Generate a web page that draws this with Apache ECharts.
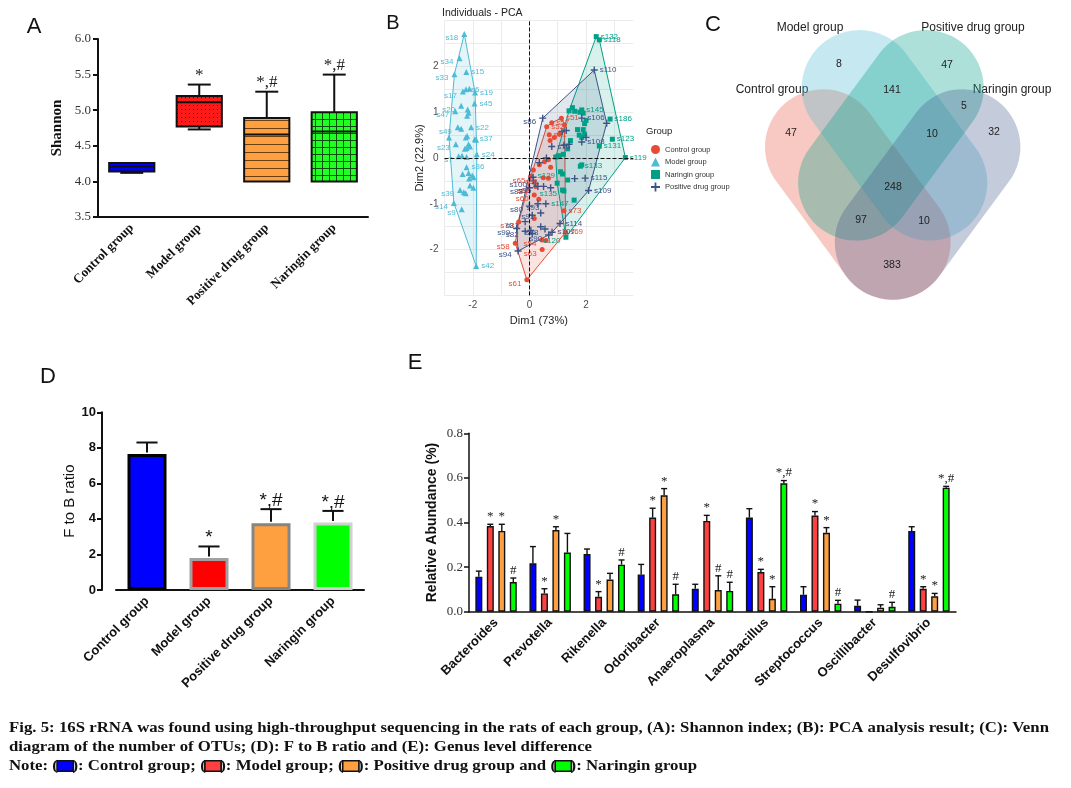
<!DOCTYPE html>
<html><head><meta charset="utf-8">
<script src="https://cdn.jsdelivr.net/npm/echarts@6/dist/echarts.min.js"></script>
<style>html,body{margin:0;padding:0;background:#fff}#c{width:1071px;height:788px}</style>
</head><body><div id="c"></div>
<script>
// ================= DATA =================
const groups = ['Control group', 'Model group', 'Positive drug group', 'Naringin group'];

// (A) Shannon index box statistics
const shannonMin    = [4.12, 4.73, 4.00, 4.00];
const shannonQ1     = [4.14, 4.77, 4.00, 4.00];
const shannonMedian = [4.21, 5.11, 4.66, 4.70];
const shannonQ3     = [4.26, 5.20, 4.89, 4.97];
const shannonMax    = [4.26, 5.36, 5.26, 5.50];
const shannonSig    = ['', '*', '*,#', '*,#'];

// (B) PCA individuals [Dim1, Dim2, label]
const pcaControl = [
 [1.13,0.87,'s51'],[0.79,0.77,'s57'],[0.61,0.68,'s52'],[0.70,0.51,'s71'],[1.06,0.52,''],[0.88,0.45,''],[0.73,0.38,''],[1.24,0.72,''],
 [0.67,-0.04,''],[0.53,-0.08,''],[0.35,-0.15,''],[0.75,-0.20,''],[0.14,-0.26,''],[0.05,-0.40,'s65'],[0.49,-0.43,'s56'],[0.67,-0.44,''],
 [0.22,-0.62,'s68'],[0.17,-0.81,'s60'],[0.33,-0.90,''],[0.17,-1.32,''],[1.22,-1.15,'s73'],[-0.38,-1.40,'s70'],[0.44,-1.79,'s54'],[0.59,-1.80,''],
 [-0.50,-1.86,'s58'],[0.45,-2.00,'s63'],[-0.09,-2.66,'s61'],[1.28,-1.62,'s69']
];
const pcaModel = [
 [-2.30,2.71,'s18'],[-2.47,2.18,'s34'],[-2.23,1.88,'s15'],[-2.65,1.83,'s33'],[-2.24,1.50,'s6'],[-2.12,1.51,''],[-1.92,1.43,'s19'],[-2.35,1.45,'s17'],
 [-2.41,1.14,'s20'],[-2.18,1.06,''],[-2.15,0.99,''],[-2.20,0.92,''],[-1.94,1.19,'s45'],[-2.62,1.02,'s47'],[-2.53,0.67,'s49'],[-2.41,0.64,''],
 [-2.06,0.67,'s22'],[-2.84,0.45,''],[-1.93,0.41,'s37'],[-1.88,0.40,''],[-2.25,0.45,''],[-2.20,0.48,''],[-2.15,0.30,''],[-2.28,0.20,''],[-2.22,0.22,''],[-2.10,0.25,''],
 [-2.60,0.30,'s23'],[-2.50,0.04,'s7'],[-1.86,0.08,'s24'],[-2.22,0.02,''],[-2.38,0.05,''],
 [-2.22,-0.20,'s36'],[-2.36,-0.35,''],[-2.15,-0.33,''],[-2.02,-0.38,''],[-2.13,-0.45,''],[-1.97,-0.42,''],
 [-2.45,-0.70,'s39'],[-2.32,-0.75,''],[-2.25,-0.77,''],[-2.10,-0.60,''],[-1.98,-0.65,''],
 [-2.67,-0.98,'s14'],[-2.39,-1.12,'s9'],[-1.88,-2.36,'s42']
];
const pcaNaringin = [
 [2.36,2.65,'s132'],[2.47,2.58,'s118'],[1.40,1.03,''],[1.52,1.10,''],[1.60,1.02,''],[1.85,1.05,'s145'],[1.90,0.98,''],[1.78,1.00,''],
 [2.85,0.85,'s186'],[2.00,0.82,''],[1.95,0.75,''],[2.93,0.41,'s123'],[2.47,0.26,'s131'],[3.39,0.01,'s119'],
 [1.70,0.62,''],[1.76,0.50,''],[1.90,0.62,''],[1.95,0.52,''],[1.85,0.45,''],[1.45,0.38,''],[1.35,0.20,''],[1.20,0.08,''],
 [1.00,0.03,''],[1.05,0.05,''],[0.93,0.02,''],[1.80,-0.18,'s133'],[1.85,-0.15,''],[1.10,-0.30,'s129'],[1.17,-0.35,''],[1.35,-0.48,''],
 [1.17,-0.70,'s135'],[1.22,-0.72,''],[1.58,-0.92,'s147'],[1.29,-1.73,'s120'],[0.98,-0.55,'']
];
const pcaPositive = [
 [2.29,1.92,'s110'],[2.73,0.76,''],[0.47,0.87,'s86'],[1.85,0.87,'s106'],[1.30,0.60,''],[1.15,0.58,''],[1.85,0.35,'s108'],[2.00,0.45,''],
 [1.40,0.30,''],[1.22,0.28,''],[0.79,0.25,'s76'],[0.60,0.00,''],[0.35,-0.10,''],[0.13,-0.42,''],[0.20,-0.55,''],[0.14,-0.50,'s100'],
 [0.30,-0.62,'s95'],[0.50,-0.62,''],[0.75,-0.65,''],[0.00,-0.65,'s83'],[1.97,-0.44,'s115'],[1.60,-0.45,''],[2.09,-0.71,'s109'],
 [0.30,-1.00,''],[0.58,-1.00,'s93'],[0.00,-1.05,'s80'],[0.40,-1.20,'s91'],[0.10,-1.25,''],[1.08,-1.43,'s114'],[-0.15,-1.39,'s81'],
 [0.40,-1.50,''],[0.55,-1.55,'s88'],[-0.45,-1.54,'s99'],[-0.15,-1.60,'s82'],[0.05,-1.58,''],[0.10,-1.65,''],[0.68,-1.68,'s90'],[0.80,-1.62,'s107'],[-0.40,-2.03,'s94']
];

// (C) Venn diagram of OTUs
const vennSets = ['Control group', 'Model group', 'Positive drug group', 'Naringin group'];
const vennRegionSets   = [[0],[1],[2],[3],[1,2],[2,3],[1,2,3],[0,1,2,3],[0,2,3],[0,1,3],[0,3]];
const vennRegionCounts = [47, 8, 47, 32, 141, 5, 10, 248, 97, 10, 383];

// (D) F to B ratio
const fbRatio = [7.65, 1.80, 3.75, 3.80];
const fbErr   = [0.65, 0.65, 0.80, 0.65];
const fbSig   = ['', '*', '*,#', '*,#'];

// (E) Genus level relative abundance
const genera = ['Bacteroides','Prevotella','Rikenella','Odoribacter','Anaeroplasma','Lactobacillus','Streptococcus','Oscillibacter','Desulfovibrio'];
const abControl     = [0.157, 0.217, 0.259, 0.167, 0.103, 0.422, 0.076, 0.027, 0.362];
const abControlErr  = [0.025, 0.075, 0.022, 0.045, 0.020, 0.040, 0.036, 0.025, 0.019];
const abModel       = [0.384, 0.082, 0.067, 0.422, 0.407, 0.178, 0.431, 0, 0.103];
const abModelErr    = [0.008, 0.021, 0.023, 0.042, 0.025, 0.012, 0.018, 0, 0.009];
const abPositive    = [0.362, 0.366, 0.144, 0.522, 0.097, 0.058, 0.354, 0.018, 0.069];
const abPositiveErr = [0.030, 0.015, 0.028, 0.030, 0.064, 0.054, 0.023, 0.013, 0.013];
const abNaringin    = [0.133, 0.265, 0.211, 0.078, 0.093, 0.576, 0.036, 0.022, 0.556];
const abNaringinErr = [0.018, 0.086, 0.021, 0.045, 0.039, 0.012, 0.015, 0.020, 0.006];
const sigControl  = ['', '', '', '', '', '', '', '', ''];
const sigModel    = ['*', '*', '*', '*', '*', '*', '*', '', '*'];
const sigPositive = ['*', '*', '', '*', '#', '*', '*', '', '*'];
const sigNaringin = ['#', '', '#', '#', '#', '*,#', '#', '#', '*,#'];

const captionLine1 = 'Fig. 5: 16S rRNA was found using high-throughput sequencing in the rats of each group, (A): Shannon index; (B): PCA analysis result; (C): Venn';
const captionLine2 = 'diagram of the number of OTUs; (D): F to B ratio and (E): Genus level difference';

// ================= STYLES =================
const barColors = ['#0000ff', '#ff0000', '#ffa040', '#00ff00'];
const barColorsE = ['#0000ff', '#ff4040', '#ffa040', '#00ff00'];
const barBorders = ['#000000', '#a0a0a0', '#858585', '#d0d0d0'];
const npg = {control:'#E64B35', model:'#4DBBD5', naringin:'#00A087', positive:'#3C5488'};
const vennColors = ['rgba(230,75,53,0.3)', 'rgba(77,187,213,0.32)', 'rgba(0,160,135,0.32)', 'rgba(60,84,136,0.3)'];
const SANS = '"Liberation Sans", Arial, sans-serif';
const SERIF = '"Liberation Serif", "Times New Roman", serif';

function pattern(bg, size, draw) {
  const c = document.createElement('canvas'); c.width = size; c.height = size;
  const g = c.getContext('2d'); g.fillStyle = bg; g.fillRect(0, 0, size, size); draw(g);
  return {type: 'pattern', image: c, repeat: 'repeat'};
}
const boxFills = [
  '#0000ff',
  pattern('#ff1a1a', 4, g => { g.fillStyle = '#5a0000'; g.fillRect(1, 1, 1, 1); }),
  pattern('#ffa040', 8, g => { g.fillStyle = '#6b3f12'; g.fillRect(0, 0, 8, 1); }),
  pattern('#22ff22', 7, g => { g.fillStyle = '#0b4d0b'; g.fillRect(0, 0, 7, 1); g.fillRect(0, 0, 1, 7); })
];

// convex hull (monotone chain)
function hull(pts) {
  const p = pts.map(d => [d[0], d[1]]).sort((a, b) => a[0] - b[0] || a[1] - b[1]);
  const cross = (o, a, b) => (a[0]-o[0])*(b[1]-o[1]) - (a[1]-o[1])*(b[0]-o[0]);
  const lo = [], up = [];
  for (const q of p) { while (lo.length >= 2 && cross(lo[lo.length-2], lo[lo.length-1], q) <= 0) lo.pop(); lo.push(q); }
  for (let i = p.length - 1; i >= 0; i--) { const q = p[i]; while (up.length >= 2 && cross(up[up.length-2], up[up.length-1], q) <= 0) up.pop(); up.push(q); }
  up.pop(); lo.pop(); return lo.concat(up);
}

// ================= VENN GEOMETRY (panel-C units, y downwards) =================
const vennShape = {length: 233.6, width: 115.6, angle: 53.6 * Math.PI / 180};
const vennLayout = [
  {cx: 137.8, cy: 194.5, tilt: -1},   // "\"
  {cx: 174.5, cy: 135.3, tilt: -1},   // "\"
  {cx: 170.9, cy: 135.3, tilt: 1},    // "/"
  {cx: 207.6, cy: 194.5, tilt: 1}     // "/"
];
function inStadium(l, x, y) {
  const dx = x - l.cx, dy = y - l.cy;
  const ux = Math.cos(vennShape.angle), uy = (l.tilt < 0 ? 1 : -1) * Math.sin(vennShape.angle);
  const a = dx*ux + dy*uy, b = -dx*uy + dy*ux;
  const half = vennShape.length/2 - vennShape.width/2, r = vennShape.width/2;
  const ca = Math.max(-half, Math.min(half, a));
  return (a - ca)*(a - ca) + b*b <= r*r;
}
// label spot of each region: the interior point farthest from the region's border
const regionLabelPos = (() => {
  const W = 351, H = 321, mask = new Int32Array(W*H), dist = new Float32Array(W*H);
  for (let y = 0; y < H; y++) for (let x = 0; x < W; x++) {
    let m = 0; vennLayout.forEach((l, k) => { if (inStadium(l, x, y)) m |= (1 << k); });
    mask[y*W + x] = m;
  }
  const INF = 1e9;
  for (let y = 0; y < H; y++) for (let x = 0; x < W; x++) {
    const i = y*W + x, m = mask[i];
    const edge = x === 0 || y === 0 || x === W-1 || y === H-1 || mask[i-1] !== m || mask[i+1] !== m || mask[i-W] !== m || mask[i+W] !== m;
    dist[i] = edge ? 0 : INF;
  }
  const D1 = 1, D2 = Math.SQRT2;
  for (let y = 1; y < H; y++) for (let x = 1; x < W-1; x++) {
    const i = y*W + x;
    dist[i] = Math.min(dist[i], dist[i-1]+D1, dist[i-W]+D1, dist[i-W-1]+D2, dist[i-W+1]+D2);
  }
  for (let y = H-2; y >= 0; y--) for (let x = W-2; x >= 1; x--) {
    const i = y*W + x;
    dist[i] = Math.min(dist[i], dist[i+1]+D1, dist[i+W]+D1, dist[i+W+1]+D2, dist[i+W-1]+D2);
  }
  const best = {};
  for (let i = 0; i < W*H; i++) { const m = mask[i]; if (!m) continue; if (!best[m] || dist[i] > best[m][2]) best[m] = [i % W, Math.floor(i / W), dist[i]]; }
  return vennRegionSets.map(s => { const m = s.reduce((t, k) => t | (1 << k), 0); return best[m] || [0, 0, 0]; });
})();

// ================= CHART =================
const chart = echarts.init(document.getElementById('c'), null, {width: 1071, height: 788});

function pcaSeries(name, data, color, symbol, size) {
  const mx = data.reduce((t, d) => t + d[0], 0) / data.length;
  return {
    name, type: 'scatter', xAxisIndex: 1, yAxisIndex: 1, data, symbol, symbolSize: size, z: 4,
    itemStyle: {color, opacity: 1},
    label: {show: true, fontSize: 8, color, fontFamily: SANS, distance: 2,
      position: 'right', formatter: p => p.data[2] || ''},
    labelLayout: p => { const d = data[p.dataIndex]; return d[0] < mx ? {align: 'right', x: p.rect.x - 3, y: p.rect.y + p.rect.height/2} : {}; }
  };
}
function hullSeries(data, color, fill) {
  const h = hull(data);
  return {
    type: 'custom', xAxisIndex: 1, yAxisIndex: 1, z: 2, silent: true, data: [[h[0][0], h[0][1]]],
    renderItem: (params, api) => ({
      type: 'polygon', shape: {points: h.map(p => api.coord(p))},
      style: {fill, stroke: color, lineWidth: 1}
    })
  };
}
function errorSeriesE(k, vals, errs, sigs) {
  const BW = 7, PITCH = 11.5;
  return {
    type: 'custom', xAxisIndex: 4, yAxisIndex: 4, z: 5, silent: true,
    data: vals.map((v, i) => [i, v, errs[i]]),
    renderItem: (params, api) => {
      const i = params.dataIndex;
      const base = api.coord([api.value(0), api.value(1)]);
      const top = api.coord([api.value(0), api.value(1) + api.value(2)]);
      const x = base[0] + (k - 1.5) * PITCH;
      const ch = [];
      if (api.value(2) > 0) {
        ch.push({type: 'line', shape: {x1: x, y1: base[1], x2: x, y2: top[1]}, style: {stroke: '#111', lineWidth: 1.4}});
        ch.push({type: 'line', shape: {x1: x - BW/2 + 0.5, y1: top[1], x2: x + BW/2 - 0.5, y2: top[1]}, style: {stroke: '#111', lineWidth: 1.4}});
      }
      if (sigs[i]) ch.push({type: 'text', x: x, y: top[1] - 1, style: {text: sigs[i], align: 'center', verticalAlign: 'bottom', font: '13px ' + SERIF, fill: '#222'}});
      return {type: 'group', children: ch};
    }
  };
}
function barE(name, vals, color) {
  return {name, type: 'bar', xAxisIndex: 4, yAxisIndex: 4, data: vals, barWidth: 7, barGap: '64%', z: 3,
    itemStyle: {color, borderColor: '#111', borderWidth: 1.4}};
}

const capCtx = document.createElement('canvas').getContext('2d');
capCtx.font = 'bold 15px ' + SERIF;
const capScale = 1040 / capCtx.measureText(captionLine1).width;

const option = {
  backgroundColor: '#fff',
  animation: false,
  grid: [
    {left: 98, top: 39, width: 270, height: 178},
    {left: 444.5, top: 20.6, width: 188.8, height: 274.8},
    {left: 720, top: 0, width: 350, height: 320},
    {left: 116, top: 412.3, width: 248, height: 177.7},
    {left: 469, top: 433.3, width: 487, height: 178.4}
  ],
  xAxis: [
    {type: 'category', gridIndex: 0, data: groups,
      axisLine: {lineStyle: {color: '#111', width: 2}}, axisTick: {alignWithLabel: true, length: 5, lineStyle: {width: 2}},
      axisLabel: {rotate: 45, fontFamily: SERIF, fontWeight: 'bold', fontSize: 13, color: '#111', margin: 9}},
    {type: 'value', gridIndex: 1, min: -3, max: 3.67, interval: 1,
      axisLine: {show: false}, axisTick: {show: false},
      axisLabel: {fontSize: 10, color: '#4d4d4d', fontFamily: SANS, margin: 5, formatter: v => (Math.abs(v % 2) < 1e-9 ? String(v) : ''), showMaxLabel: false},
      splitLine: {show: true, lineStyle: {color: '#ebebeb', width: 1}, showMaxLine: false},
      name: 'Dim1 (73%)', nameLocation: 'middle', nameGap: 20, nameTextStyle: {fontSize: 11, color: '#222', fontFamily: SANS}},
    {type: 'value', gridIndex: 2, min: 0, max: 350, show: false},
    {type: 'category', gridIndex: 3, data: groups,
      axisLine: {lineStyle: {color: '#111', width: 2}}, axisTick: {alignWithLabel: true, length: 5, lineStyle: {width: 2}},
      axisLabel: {rotate: 45, fontFamily: SANS, fontWeight: 'bold', fontSize: 13, color: '#111', margin: 9}},
    {type: 'category', gridIndex: 4, data: genera,
      axisLine: {lineStyle: {color: '#111', width: 1.5}}, axisTick: {alignWithLabel: true, length: 5, lineStyle: {width: 1.5}},
      axisLabel: {rotate: 45, fontFamily: SANS, fontWeight: 'bold', fontSize: 13, color: '#111', margin: 9}}
  ],
  yAxis: [
    {type: 'value', gridIndex: 0, min: 3.5, max: 6.0, interval: 0.5,
      axisLine: {show: true, lineStyle: {color: '#111', width: 2}}, axisTick: {show: true, length: 5, lineStyle: {width: 2}},
      splitLine: {show: false},
      axisLabel: {formatter: v => v.toFixed(1), fontFamily: SERIF, fontSize: 13, color: '#333', margin: 7},
      name: 'Shannon', nameLocation: 'middle', nameGap: 33, nameTextStyle: {fontFamily: SERIF, fontWeight: 'bold', fontSize: 15, color: '#111'}},
    {type: 'value', gridIndex: 1, min: -3, max: 3, interval: 0.5,
      axisLine: {show: false}, axisTick: {show: false},
      axisLabel: {fontSize: 10, color: '#4d4d4d', fontFamily: SANS, margin: 6,
        formatter: v => (Math.abs(v) <= 2 && Math.abs(v % 1) < 1e-9 ? String(v) : '')},
      splitLine: {show: true, lineStyle: {color: '#ebebeb', width: 1}},
      name: 'Dim2 (22.9%)', nameLocation: 'middle', nameGap: 17, nameTextStyle: {fontSize: 11, color: '#222', fontFamily: SANS}},
    {type: 'value', gridIndex: 2, min: 0, max: 320, inverse: true, show: false},
    {type: 'value', gridIndex: 3, min: 0, max: 10, interval: 2, offset: 14,
      axisLine: {show: true, lineStyle: {color: '#111', width: 2}}, axisTick: {show: true, length: 5, lineStyle: {width: 2}},
      splitLine: {show: false},
      axisLabel: {fontFamily: SANS, fontWeight: 'bold', fontSize: 13, color: '#111', margin: 6},
      name: 'F to B ratio', nameLocation: 'middle', nameGap: 20, nameTextStyle: {fontFamily: SANS, fontSize: 15, color: '#111'}},
    {type: 'value', gridIndex: 4, min: 0, max: 0.8, interval: 0.2,
      axisLine: {show: true, lineStyle: {color: '#111', width: 1.5}}, axisTick: {show: true, length: 5, lineStyle: {width: 1.5}},
      splitLine: {show: false},
      axisLabel: {formatter: v => v.toFixed(1), fontFamily: SERIF, fontSize: 13, color: '#333', margin: 6},
      name: 'Relative Abundance (%)', nameLocation: 'middle', nameGap: 30, nameTextStyle: {fontFamily: SANS, fontWeight: 'bold', fontSize: 14, color: '#111'}}
  ],
  legend: {
    data: ['Control group', 'Model group', 'Naringin group', 'Positive drug group'],
    orient: 'vertical', left: 646, top: 140, itemWidth: 9, itemHeight: 9, itemGap: 3.5,
    textStyle: {fontSize: 7.5, color: '#333', fontFamily: SANS}, selectedMode: false
  },
  graphic: [
    {type: 'text', x: 34, y: 27, style: {text: 'A', font: '22px ' + SANS, fill: '#111', align: 'center', verticalAlign: 'middle'}},
    {type: 'text', x: 393, y: 23, style: {text: 'B', font: '20px ' + SANS, fill: '#111', align: 'center', verticalAlign: 'middle'}},
    {type: 'text', x: 713, y: 25, style: {text: 'C', font: '22px ' + SANS, fill: '#111', align: 'center', verticalAlign: 'middle'}},
    {type: 'text', x: 48, y: 377, style: {text: 'D', font: '22px ' + SANS, fill: '#111', align: 'center', verticalAlign: 'middle'}},
    {type: 'text', x: 415, y: 363, style: {text: 'E', font: '22px ' + SANS, fill: '#111', align: 'center', verticalAlign: 'middle'}},
    {type: 'text', x: 442, y: 13, style: {text: 'Individuals - PCA', font: '10.5px ' + SANS, fill: '#222', verticalAlign: 'middle'}},
    {type: 'text', x: 646, y: 131, style: {text: 'Group', font: '9.5px ' + SANS, fill: '#222', verticalAlign: 'middle'}},
    {type: 'text', x: 810, y: 28, style: {text: vennSets[1], font: '12px ' + SANS, fill: '#222', align: 'center', verticalAlign: 'middle'}},
    {type: 'text', x: 973, y: 28, style: {text: vennSets[2], font: '12px ' + SANS, fill: '#222', align: 'center', verticalAlign: 'middle'}},
    {type: 'text', x: 772, y: 90, style: {text: vennSets[0], font: '12px ' + SANS, fill: '#222', align: 'center', verticalAlign: 'middle'}},
    {type: 'text', x: 1012, y: 90, style: {text: vennSets[3], font: '12px ' + SANS, fill: '#222', align: 'center', verticalAlign: 'middle'}},
    {type: 'text', x: 9, y: 728, scaleX: capScale, style: {text: captionLine1, font: 'bold 15px ' + SERIF, fill: '#111', verticalAlign: 'middle'}},
    {type: 'text', x: 9, y: 747, scaleX: capScale, style: {text: captionLine2, font: 'bold 15px ' + SERIF, fill: '#111', verticalAlign: 'middle'}},
    {type: 'text', x: 9, y: 766, scaleX: capScale, style: {
      text: 'Note: ({c| }): ' + groups[0] + '; ({m| }): ' + groups[1] + '; ({p| }): ' + groups[2] + ' and ({n| }): ' + groups[3],
      font: 'bold 15px ' + SERIF, fill: '#111', verticalAlign: 'middle',
      rich: {
        c: {width: 13, height: 9, backgroundColor: barColorsE[0], borderColor: '#111', borderWidth: 1.5},
        m: {width: 13, height: 9, backgroundColor: barColorsE[1], borderColor: '#111', borderWidth: 1.5},
        p: {width: 13, height: 9, backgroundColor: barColorsE[2], borderColor: '#111', borderWidth: 1.5},
        n: {width: 13, height: 9, backgroundColor: barColorsE[3], borderColor: '#111', borderWidth: 1.5}
      }}}
  ],
  series: [
    // ---- A ----
    {type: 'custom', xAxisIndex: 0, yAxisIndex: 0, silent: true,
      data: groups.map((g, i) => [i, shannonMin[i], shannonQ1[i], shannonMedian[i], shannonQ3[i], shannonMax[i]]),
      encode: {x: 0, y: [1, 2, 3, 4, 5]},
      renderItem: (params, api) => {
        const i = params.dataIndex;
        const c = k => api.coord([api.value(0), api.value(k)]);
        const pMin = c(1), pQ1 = c(2), pMed = c(3), pQ3 = c(4), pMax = c(5);
        const band = api.size([1, 0])[0];
        const x = pMed[0], bw = band * 0.67, cw = band * 0.34;
        const ls = {stroke: '#111', lineWidth: 2};
        const ch = [];
        if (pQ3[1] - pMax[1] > 0.5) {
          ch.push({type: 'line', shape: {x1: x, y1: pQ3[1], x2: x, y2: pMax[1]}, style: ls});
          ch.push({type: 'line', shape: {x1: x - cw/2, y1: pMax[1], x2: x + cw/2, y2: pMax[1]}, style: ls});
        }
        if (pMin[1] - pQ1[1] > 0.5) {
          ch.push({type: 'line', shape: {x1: x, y1: pQ1[1], x2: x, y2: pMin[1]}, style: ls});
          ch.push({type: 'line', shape: {x1: x - cw/2, y1: pMin[1], x2: x + cw/2, y2: pMin[1]}, style: ls});
        }
        ch.push({type: 'rect', shape: {x: x - bw/2, y: pQ3[1], width: bw, height: pQ1[1] - pQ3[1]}, style: {fill: boxFills[i], stroke: '#111', lineWidth: 2}});
        ch.push({type: 'line', shape: {x1: x - bw/2, y1: pMed[1], x2: x + bw/2, y2: pMed[1]}, style: ls});
        if (shannonSig[i]) ch.push({type: 'text', x: x, y: pMax[1] - 1, style: {text: shannonSig[i], align: 'center', verticalAlign: 'bottom', font: '17px ' + SERIF, fill: '#222'}});
        return {type: 'group', children: ch};
      }},
    // ---- B ----
    hullSeries(pcaControl, npg.control, 'rgba(230,75,53,0.15)'),
    hullSeries(pcaModel, npg.model, 'rgba(77,187,213,0.15)'),
    hullSeries(pcaNaringin, npg.naringin, 'rgba(0,160,135,0.15)'),
    hullSeries(pcaPositive, npg.positive, 'rgba(60,84,136,0.15)'),
    Object.assign(pcaSeries('Control group', pcaControl, npg.control, 'circle', 5), {
      markLine: {silent: true, symbol: 'none', label: {show: false}, lineStyle: {type: 'dashed', color: '#111', width: 1},
        data: [{xAxis: 0}, {yAxis: 0}]}}),
    pcaSeries('Model group', pcaModel, npg.model, 'triangle', 6),
    pcaSeries('Naringin group', pcaNaringin, npg.naringin, 'rect', 5),
    pcaSeries('Positive drug group', pcaPositive, npg.positive, 'path://M4,0h2v4h4v2h-4v4h-2v-4h-4v-2h4z', 7),
    // ---- C ----
    {type: 'custom', xAxisIndex: 2, yAxisIndex: 2, silent: true, z: 2,
      data: vennLayout.map(l => [l.cx, l.cy]),
      renderItem: (params, api) => {
        const l = vennLayout[params.dataIndex];
        const p = api.coord([api.value(0), api.value(1)]);
        const s = api.size([vennShape.length, vennShape.width]);
        const L = s[0], W = s[1];
        return {type: 'rect', shape: {x: p[0] - L/2, y: p[1] - W/2, width: L, height: W, r: W/2},
          rotation: l.tilt * vennShape.angle, originX: p[0], originY: p[1],
          style: {fill: vennColors[params.dataIndex], stroke: 'none'}};
      }},
    {type: 'custom', xAxisIndex: 2, yAxisIndex: 2, silent: true, z: 3,
      data: regionLabelPos.map((c, i) => [c[0], c[1], vennRegionCounts[i]]),
      renderItem: (params, api) => {
        const p = api.coord([api.value(0), api.value(1)]);
        return {type: 'text', x: p[0], y: p[1], style: {text: String(api.value(2)), align: 'center', verticalAlign: 'middle', font: '10.5px ' + SANS, fill: '#222'}};
      }},
    // ---- D ----
    {type: 'bar', xAxisIndex: 3, yAxisIndex: 3, barWidth: 39,
      data: fbRatio.map((v, i) => ({value: v, itemStyle: {color: barColors[i], borderColor: barBorders[i], borderWidth: 3}}))},
    {type: 'custom', xAxisIndex: 3, yAxisIndex: 3, silent: true, z: 5,
      data: fbRatio.map((v, i) => [i, v, fbErr[i]]),
      renderItem: (params, api) => {
        const i = params.dataIndex;
        const base = api.coord([api.value(0), api.value(1)]);
        const top = api.coord([api.value(0), api.value(1) + api.value(2)]);
        const cw = api.size([1, 0])[0] * 0.34, x = base[0];
        const ls = {stroke: '#111', lineWidth: 2};
        const ch = [
          {type: 'line', shape: {x1: x, y1: base[1] - 1.5, x2: x, y2: top[1]}, style: ls},
          {type: 'line', shape: {x1: x - cw/2, y1: top[1], x2: x + cw/2, y2: top[1]}, style: ls}
        ];
        if (fbSig[i]) ch.push({type: 'text', x: x, y: top[1] + 1, style: {text: fbSig[i], align: 'center', verticalAlign: 'bottom', font: '19px ' + SANS, fill: '#111'}});
        return {type: 'group', children: ch};
      }},
    // ---- E ----
    barE('Control', abControl, barColorsE[0]),
    barE('Model', abModel, barColorsE[1]),
    barE('Positive', abPositive, barColorsE[2]),
    barE('Naringin', abNaringin, barColorsE[3]),
    errorSeriesE(0, abControl, abControlErr, sigControl),
    errorSeriesE(1, abModel, abModelErr, sigModel),
    errorSeriesE(2, abPositive, abPositiveErr, sigPositive),
    errorSeriesE(3, abNaringin, abNaringinErr, sigNaringin)
  ]
};
chart.setOption(option);
</script>
</body></html>
